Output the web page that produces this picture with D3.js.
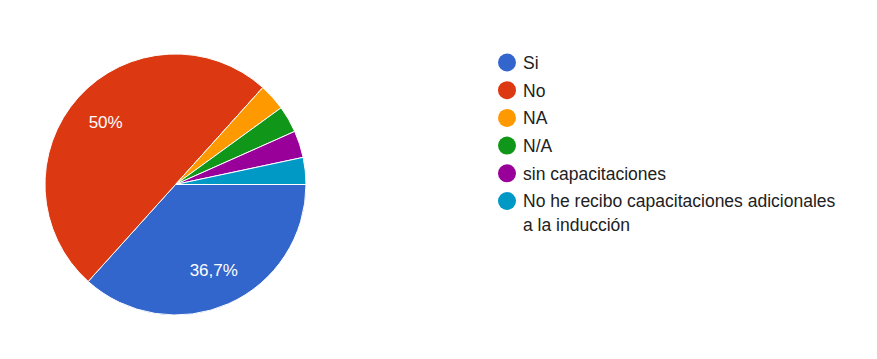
<html>
<head>
<meta charset="utf-8">
<script src="https://cdn.jsdelivr.net/npm/d3@7"></script>
<style>
  body { margin: 0; background: #fff; }
  text { font-family: Arial, "Liberation Sans", sans-serif; }
  .legend text { fill: #212121; font-size: 17.5px; }
  .slice-label { fill: #fff; font-size: 17px; }
</style>
</head>
<body>
<script>
// answers and counts (30 responses)
const categories = ["Si", "No", "NA", "N/A", "sin capacitaciones", "No he recibo capacitaciones adicionales a la inducción"]
const counts = [11, 15, 1, 1, 1, 1]
const sliceLabels = ["36,7%", "50%", "", "", "", ""]
const legendLines = [["Si"], ["No"], ["NA"], ["N/A"], ["sin capacitaciones"], ["No he recibo capacitaciones adicionales", "a la inducción"]]
const colors = ["#3366cc", "#dc3912", "#ff9900", "#109618", "#990099", "#0099c6"]

let w = 877
let h = 359
let cx = 175.5
let cy = 184.5
let r = 130.5

let svg = d3.select("body").append("svg")
            .attr("width", w)
            .attr("height", h)

let data = categories.map((c, i) => ({name: c, value: counts[i], label: sliceLabels[i], color: colors[i]}))

// start at 3 o'clock, go clockwise
let pie = d3.pie()
            .sort(null)
            .value(d => d.value)
            .startAngle(Math.PI / 2)
            .endAngle(Math.PI / 2 + 2 * Math.PI)
let arc = d3.arc().innerRadius(0).outerRadius(r)
let labelArc = d3.arc().innerRadius(94).outerRadius(94)

let g = svg.append("g").attr("transform", "translate(" + cx + "," + cy + ")")
let arcs = pie(data)
g.selectAll("path")
  .data(arcs)
  .enter()
  .append("path")
  .attr("d", arc)
  .attr("fill", d => d.data.color)
  .attr("stroke", "#fff")
  .attr("stroke-width", 1)

g.selectAll(".slice-label")
  .data(arcs.filter(d => d.data.label))
  .enter()
  .append("text")
  .attr("class", "slice-label")
  .attr("transform", d => "translate(" + labelArc.centroid(d) + ")")
  .attr("text-anchor", "middle")
  .attr("dy", "0.36em")
  .text(d => d.data.label)

// legend
let legend = svg.append("g").attr("class", "legend")
let rowY = d3.scaleLinear().domain([0, 1]).range([62.5, 90.2])
let items = legend.selectAll("g")
  .data(data)
  .enter()
  .append("g")
  .attr("transform", (d, i) => "translate(507," + rowY(i) + ")")
items.append("circle")
  .attr("r", 9)
  .attr("fill", d => d.color)
items.append("text")
  .each(function (d, i) {
    d3.select(this).selectAll("tspan")
      .data(legendLines[i])
      .enter()
      .append("tspan")
      .attr("x", 16)
      .attr("dy", (t, j) => j == 0 ? "0.36em" : 23.5)
      .text(t => t)
  })
</script>
</body>
</html>
